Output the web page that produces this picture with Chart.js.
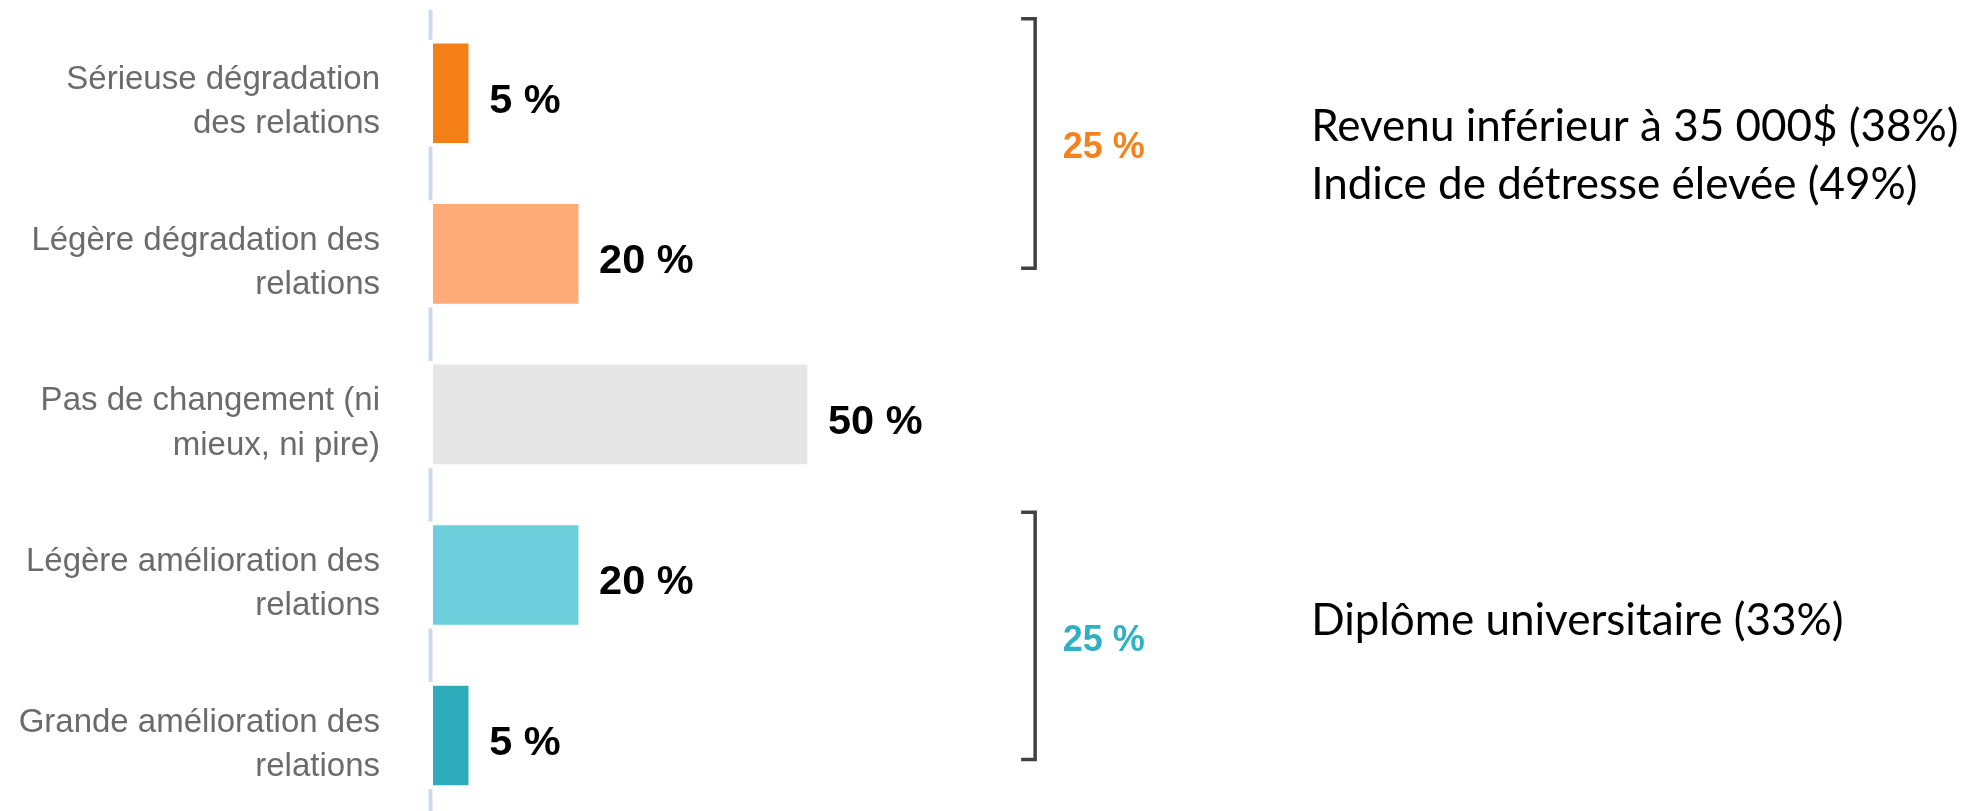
<!DOCTYPE html>
<html>
<head>
<meta charset="utf-8">
<script src="https://cdn.jsdelivr.net/npm/chart.js@4/dist/chart.umd.min.js"></script>
<style>
  html, body { margin: 0; padding: 0; background: #fff; overflow: hidden; }
  #wrap { width: 1986px; height: 811px; position: relative; }
</style>
</head>
<body>
<div id="wrap"><canvas id="myChart"></canvas></div>
<script>
// data
const categories = [
  ['Sérieuse dégradation', 'des relations'],
  ['Légère dégradation des', 'relations'],
  ['Pas de changement (ni', 'mieux, ni pire)'],
  ['Légère amélioration des', 'relations'],
  ['Grande amélioration des', 'relations']
];
const values = [4.7, 19.4, 50, 19.4, 4.7];
const valueLabels = ['5 %', '20 %', '50 %', '20 %', '5 %'];
const groupLabels = ['25 %', '25 %'];
const notes = ['Revenu inférieur à 35 000$ (38%)', 'Indice de détresse élevée (49%)', 'Diplôme universitaire (33%)'];

const barColors = ['#f57f17', '#ffab78', '#e6e6e6', '#6dcfdb', '#2eacbc'];
const groupColors = ['#f5821f', '#30b0c4'];

// vertical axis line, broken around each bar
const axisLine = {
  id: 'axisLine',
  afterDatasetsDraw(chart) {
    const ctx = chart.ctx;
    const x = chart.scales.x.getPixelForValue(0) - 2.5;
    let y = chart.chartArea.top - 3;
    ctx.save();
    ctx.strokeStyle = '#cfd9ec';
    ctx.lineWidth = 4;
    chart.getDatasetMeta(0).data.forEach(bar => {
      const top = bar.y - bar.height / 2 - 4;
      if (top > y) {
        ctx.beginPath(); ctx.moveTo(x, y); ctx.lineTo(x, top); ctx.stroke();
      }
      y = bar.y + bar.height / 2 + 4;
    });
    ctx.beginPath(); ctx.moveTo(x, y); ctx.lineTo(x, chart.height); ctx.stroke();
    ctx.restore();
  }
};

// bold value labels at the end of the bars
const barLabels = {
  id: 'barLabels',
  afterDatasetsDraw(chart) {
    const ctx = chart.ctx;
    ctx.save();
    ctx.font = 'bold 41.5px "Liberation Sans", Arial, sans-serif';
    ctx.fillStyle = '#000';
    ctx.textAlign = 'left';
    ctx.textBaseline = 'middle';
    chart.getDatasetMeta(0).data.forEach((bar, i) => {
      ctx.fillText(valueLabels[i], bar.x + 21, bar.y + 8);
    });
    ctx.restore();
  }
};

// brackets grouping the two top and the two bottom categories
const brackets = {
  id: 'brackets',
  afterDraw(chart) {
    const ctx = chart.ctx;
    const xs = chart.scales.x, ys = chart.scales.y;
    const spans = [[-0.464, 1.09], [2.61, 4.15]];
    const bx = xs.getPixelForValue(80.5);
    ctx.save();
    spans.forEach((s, i) => {
      const top = ys.getPixelForValue(s[0]);
      const bottom = ys.getPixelForValue(s[1]);
      ctx.strokeStyle = '#404040';
      ctx.lineWidth = 3.5;
      ctx.lineJoin = 'miter';
      ctx.beginPath();
      ctx.moveTo(bx - 14, top);
      ctx.lineTo(bx, top);
      ctx.lineTo(bx, bottom);
      ctx.lineTo(bx - 14, bottom);
      ctx.stroke();
      ctx.font = 'bold 36px "Liberation Sans", Arial, sans-serif';
      ctx.fillStyle = groupColors[i];
      ctx.textAlign = 'left';
      ctx.textBaseline = 'middle';
      ctx.fillText(groupLabels[i], xs.getPixelForValue(84.2), (top + bottom) / 2 + 5);
    });
    ctx.restore();
  }
};

// notes on the right
const sideNotes = {
  id: 'sideNotes',
  afterDraw(chart) {
    const ctx = chart.ctx;
    const xs = chart.scales.x, ys = chart.scales.y;
    const rows = [0.209, 0.57, 3.285];
    ctx.save();
    ctx.font = '44px Lato, "Open Sans", sans-serif';
    ctx.fillStyle = '#000';
    ctx.textAlign = 'left';
    ctx.textBaseline = 'middle';
    notes.forEach((t, i) => {
      ctx.fillText(t, xs.getPixelForValue(117.4), ys.getPixelForValue(rows[i]));
    });
    ctx.restore();
  }
};

const ctx = document.getElementById('myChart').getContext('2d');
const chart = new Chart(ctx, {
  type: 'bar',
  data: {
    datasets: [{
      data: values.map((v, i) => ({ x: v, y: i })),
      backgroundColor: barColors,
      borderWidth: 0,
      barThickness: 99
    }]
  },
  options: {
    indexAxis: 'y',
    responsive: true,
    maintainAspectRatio: false,
    animation: false,
    devicePixelRatio: 1,
    layout: { padding: { top: 13, right: 57, bottom: 0, left: 0 } },
    plugins: {
      legend: { display: false },
      tooltip: { enabled: false }
    },
    scales: {
      x: {
        type: 'linear',
        min: 0,
        max: 200,
        display: false
      },
      y: {
        type: 'linear',
        reverse: true,
        offset: false,
        min: -0.5,
        max: 4.47,
        grid: { display: false, drawTicks: false },
        border: { display: false },
        afterBuildTicks(axis) {
          axis.ticks = categories.map((c, i) => ({ value: i }));
        },
        afterFit(axis) {
          axis.width = 433;
          axis.paddingTop = 0;
          axis.paddingBottom = 0;
        },
        ticks: {
          autoSkip: false,
          padding: 53,
          labelOffset: 9,
          color: '#6b6b6b',
          font: { family: '"Liberation Sans", Arial, sans-serif', size: 33, lineHeight: 1.34 },
          callback: (value) => categories[value]
        }
      }
    }
  },
  plugins: [axisLine, barLabels, brackets, sideNotes]
});
</script>
</body>
</html>
